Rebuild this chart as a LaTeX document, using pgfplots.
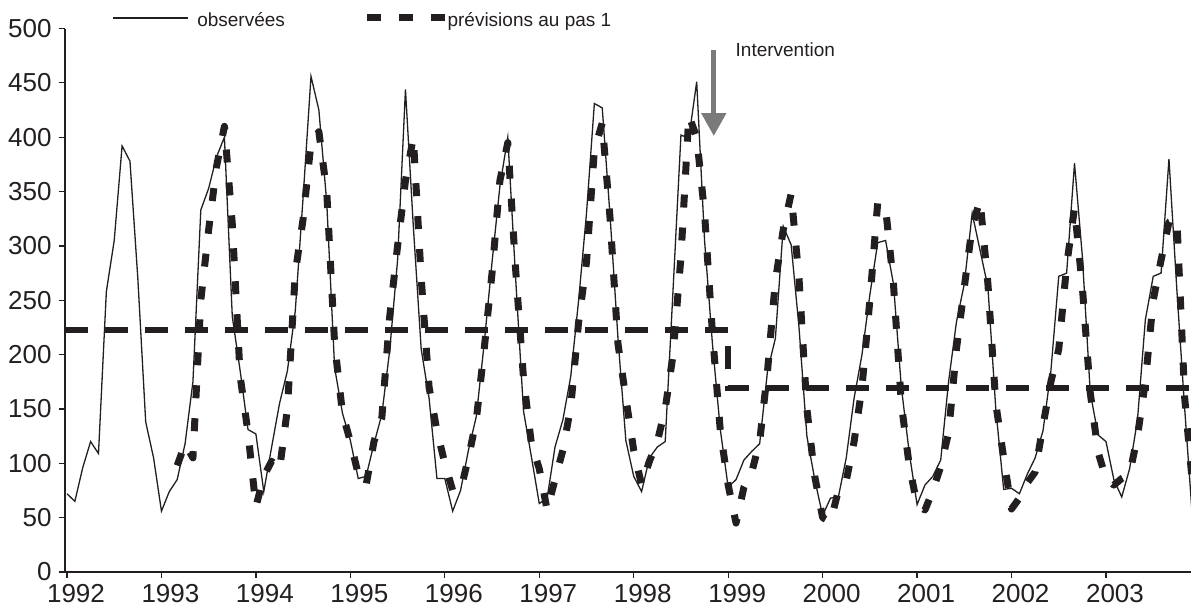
\documentclass[border=0pt]{standalone}
\usepackage{fontspec}
\setmainfont{Liberation Sans}
\usepackage{pgfplots}
\pgfplotsset{compat=1.18}
\usetikzlibrary{arrows.meta}
\definecolor{ink}{RGB}{35,31,32}
\definecolor{arrowgray}{RGB}{122,122,122}

% monthly series, month 0 = January 1992
\pgfplotstableread{
m v
0 72
1 65
2 96
3 120
4 109
5 258
6 305
7 392
8 378
9 270
10 138
11 105
12 56
13 74
14 85
15 118
16 175
17 333
18 353
19 382
20 400
21 235
22 185
23 131
24 127
25 74
26 115
27 155
28 185
29 240
30 345
31 456
32 425
33 340
34 188
35 146
36 121
37 86
38 88
39 118
40 145
41 204
42 287
43 444
44 318
45 205
46 160
47 86
48 86
49 56
50 75
51 112
52 143
53 210
54 285
55 355
56 400
57 270
58 148
59 106
60 63
61 68
62 115
63 140
64 180
65 250
66 330
67 431
68 427
69 327
70 215
71 121
72 88
73 74
74 105
75 115
76 120
77 260
78 402
79 399
80 451
81 305
82 210
83 131
84 78
85 85
86 103
87 111
88 118
89 185
90 215
91 318
92 301
93 225
94 125
95 85
96 52
97 68
98 69
99 105
100 160
101 200
102 255
103 303
104 305
105 265
106 170
107 110
108 62
109 80
110 88
111 103
112 175
113 230
114 265
115 330
116 296
117 262
118 150
119 76
120 77
121 72
122 90
123 105
124 130
125 185
126 272
127 275
128 376
129 290
130 165
131 126
132 120
133 85
134 69
135 95
136 140
137 232
138 272
139 275
140 380
141 260
142 150
143 48
}\observees

\pgfplotstableread{
m v
14 98
15 118
16 105
17 250
18 315
19 373
20 410
21 320
22 180
23 128
24 60
25 88
26 102
27 94
28 150
29 275
30 325
31 395
32 405
33 350
34 210
35 146
36 120
37 90
38 80
39 120
40 142
41 235
42 300
43 360
44 400
45 270
46 170
47 130
48 100
49 75
50 75
51 105
52 140
53 205
54 275
55 360
56 395
57 278
58 178
59 118
60 95
61 57
62 85
63 112
64 152
65 230
66 285
67 388
68 413
69 325
70 210
71 160
72 112
73 80
74 102
75 120
76 150
77 200
78 290
79 420
80 400
81 330
82 220
83 130
84 80
85 45
86 78
87 92
88 120
89 185
90 268
91 315
92 348
93 270
94 150
95 88
96 50
97 46
98 75
99 84
100 120
101 170
102 250
103 340
104 335
105 265
106 155
107 98
108 62
109 57
110 75
111 97
112 128
113 205
114 262
115 318
116 342
117 265
118 155
119 105
120 58
121 68
122 82
123 92
124 135
125 175
126 205
127 282
128 335
129 262
130 165
131 110
132 86
133 80
134 86
135 90
136 125
137 175
138 250
139 287
140 322
141 325
142 160
143 80
}\previsions

\begin{document}
\begin{tikzpicture}
\begin{axis}[
  at={(0,0)}, anchor=south west,
  scale only axis,
  width=563pt, height=271.75pt,
  xmin=-0.254, xmax=142.8,
  ymin=0, ymax=500,
  axis x line=bottom, axis y line=left,
  axis line style={-, line width=0.7pt, color=ink},
  xtick={0,12,...,132},
  xticklabels={1992,1993,1994,1995,1996,1997,1998,1999,2000,2001,2002,2003},
  ytick={0,50,...,500},
  tick align=outside,
  major tick length=3pt,
  tick style={line width=0.6pt, color=ink},
  ticklabel style={font=\fontsize{13}{13}\selectfont, text=ink},
  xticklabel style={inner sep=0pt, anchor=north, xshift=4.5pt, yshift=-3pt},
  yticklabel style={inner sep=0pt, anchor=east, xshift=-3.5pt},
  /pgf/number format/assume math mode=true,
  clip mode=individual,
]
\addplot[ink, line width=0.65pt] table[x=m, y=v] {\observees};
\addplot[ink, line width=3.5pt, line join=round, dash pattern=on 6.5pt off 10pt] table[x=m, y=v] {\previsions};
% mean level before and after the intervention
\addplot[ink, line width=3pt, dash pattern=on 11.5pt off 8.5pt] coordinates {(-0.254,223) (84,223) (84,169) (142.8,169)};

% legend
\draw[ink, line width=0.65pt] (axis cs:5.85,509.7) -- (axis cs:15.4,509.7);
\node[anchor=base west, inner sep=0pt, yshift=-4.5pt, font=\fontsize{9.5}{9.5}\selectfont, text=ink] at (axis cs:16.5,509.7) {observées};
\draw[ink, line width=3.5pt, dash pattern=on 7pt off 9pt] (axis cs:38.1,509.7) -- (axis cs:48,509.7);
\node[anchor=base west, inner sep=0pt, yshift=-4.5pt, font=\fontsize{9.5}{9.5}\selectfont, text=ink] at (axis cs:48.3,509.7) {prévisions au pas 1};

% intervention arrow
\draw[arrowgray, line width=2.5pt, -{Triangle[width=12pt, length=11.5pt]}] (axis cs:82.17,480.2) -- (axis cs:82.17,401.1);
\node[anchor=base west, inner sep=0pt, font=\fontsize{9.5}{9.5}\selectfont, text=ink] at (axis cs:84.9,473.8) {Intervention};
\end{axis}
\pgfresetboundingbox
\useasboundingbox (-32.5pt,-19.5pt) rectangle (563pt,286pt);
\end{tikzpicture}
\end{document}
